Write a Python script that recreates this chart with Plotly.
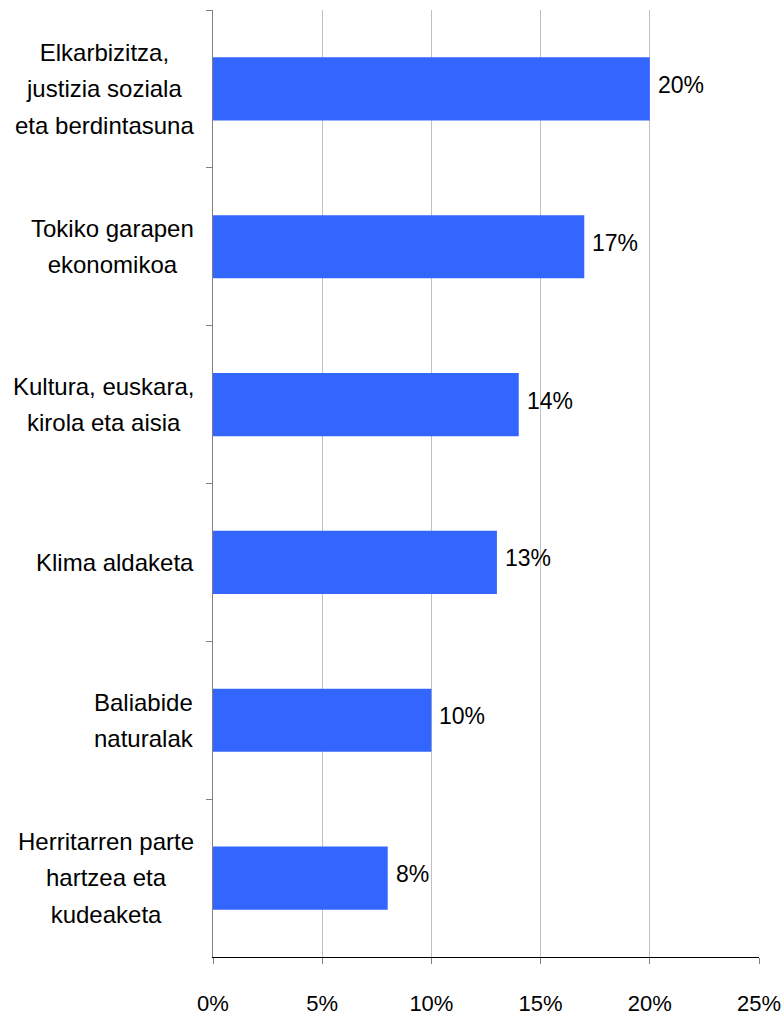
import plotly.graph_objects as go

categories = [
    "Elkarbizitza,<br>justizia soziala<br>eta berdintasuna",
    "Tokiko garapen<br>ekonomikoa",
    "Kultura, euskara,<br>kirola eta aisia",
    "Klima aldaketa",
    "Baliabide<br>naturalak",
    "Herritarren parte<br>hartzea eta<br>kudeaketa",
]
values = [20, 17, 14, 13, 10, 8]
x_ticks = [0, 5, 10, 15, 20, 25]
x_tick_labels = ["0%", "5%", "10%", "15%", "20%", "25%"]

FONT = "Liberation Sans, Arial, sans-serif"


def styled(label, size):
    return "<br>".join(
        f'<span style="font-size:{size}px">{ln}</span>' for ln in label.split("<br>")
    )


fig = go.Figure()
fig.add_trace(go.Bar(
    x=values,
    y=categories,
    orientation="h",
    width=0.4,
    marker=dict(color="#3366FF", line=dict(width=0)),
    cliponaxis=False,
))

for c, v in zip(categories, values):
    fig.add_annotation(
        x=v, xref="x", y=c, yref="y",
        text=f"{v}%", showarrow=False, xanchor="left", yanchor="middle",
        xshift=6, yshift=4,
        font=dict(family=FONT, size=23, color="#000000"),
    )
    fig.add_annotation(
        x=0, xref="paper", y=c, yref="y",
        text=styled(c, 24), showarrow=False, xanchor="right", yanchor="middle",
        align="center", xshift=-17,
        font=dict(family=FONT, size=28, color="#000000"),
    )

fig.update_layout(
    width=782, height=1017,
    margin=dict(l=213, r=23, t=10, b=60),
    paper_bgcolor="white", plot_bgcolor="white",
    showlegend=False,
    font=dict(family=FONT, size=23, color="#000000"),
    xaxis=dict(
        range=[0, 25], tickvals=x_ticks, ticktext=x_tick_labels,
        showgrid=True, gridcolor="#C0C0C0", gridwidth=1,
        zeroline=False, showline=True, linecolor="#000000", linewidth=1,
        ticks="outside", ticklen=6, tickcolor="#808080",
        ticklabelstandoff=21, automargin=False,
        tickfont=dict(family=FONT, size=22, color="#000000"),
        fixedrange=True,
    ),
    yaxis=dict(
        autorange="reversed", showticklabels=False, automargin=False,
        showline=True, linecolor="#808080", linewidth=1,
        ticks="outside", ticklen=6, tickcolor="#808080", tickson="boundaries",
        showgrid=False, zeroline=False,
    ),
)

fig.write_html("out.html")
